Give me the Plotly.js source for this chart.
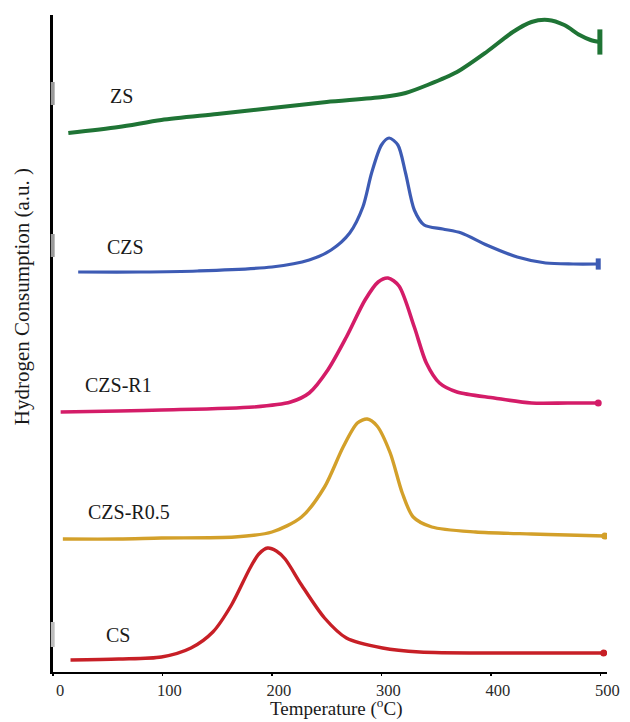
<!DOCTYPE html>
<html>
<head>
<meta charset="utf-8">
<script src="https://cdn.plot.ly/plotly-3.0.1.min.js"></script>
<style>html,body{margin:0;padding:0;background:#fff;}#chart{width:630px;height:722px;}</style>
</head>
<body>
<div id="chart"></div>
<script>
// Temperature (°C) and hydrogen consumption (a.u., stacked offsets as drawn)
const zsT   = [14, 60, 99, 150, 200, 250, 301, 322, 342, 369, 396, 420, 437, 452, 467, 481, 491, 499.5];
const zsH   = [539, 545, 552, 558, 564, 570, 575, 579, 587, 600, 620, 640, 650, 652, 647, 637, 632, 630];

const czsT  = [23, 80, 132, 200, 234, 254, 271, 283, 291, 300, 307, 315, 322, 330, 339, 356, 373, 396, 424, 450, 475, 498];
const czsH  = [400, 400, 401, 405, 412, 422, 439, 465, 499, 527, 534, 527, 499, 462, 447, 443, 439, 427, 415, 409, 408, 408];

const r1T   = [7, 60, 99, 183, 217, 234, 251, 268, 285, 297, 306, 316, 330, 341, 353, 369, 403, 437, 470, 498];
const r1H   = [260, 261, 262, 265, 270, 279, 302, 335, 372, 390, 394, 386, 345, 309, 289, 280, 274, 269, 269, 269];

const r05T  = [9, 60, 99, 166, 200, 227, 248, 265, 278, 287, 296, 308, 319, 329, 346, 386, 437, 470, 504];
const r05H  = [133, 133, 134, 135, 140, 155, 185, 225, 249, 253, 246, 219, 179, 155, 145, 140, 138, 137, 136];

const csT   = [16, 60, 99, 126, 146, 163, 180, 188, 196, 204, 212, 227, 248, 268, 301, 335, 403, 450, 503];
const csH   = [12, 13, 15, 24, 40, 67, 104, 118, 124, 121, 113, 87, 54, 34, 24, 20, 19, 19, 19];

const seriesNames  = ['ZS', 'CZS', 'CZS-R1', 'CZS-R0.5', 'CS'];
const seriesColors = ['#1f7435', '#3d5bb4', '#d41c68', '#d3a02a', '#c71f26'];
const labelT = [63, 66, 60, 69, 59];
const labelH = [576, 425, 287, 160, 37];

const xTicks = [0, 100, 200, 300, 400, 500];
const xTickText = ['0', '100', '200', '300', '400', '500'];

const SERIF = 'Liberation Serif';

const allT = [zsT, czsT, r1T, r05T, csT];
const allH = [zsH, czsH, r1H, r05H, csH];
const widths = [4, 3.2, 3.6, 3.4, 3.4];

const traces = [];
for (let i = 0; i < allT.length; i++) {
  traces.push({
    x: allT[i], y: allH[i], type: 'scatter', mode: 'lines', name: seriesNames[i],
    line: {color: seriesColors[i], width: widths[i], shape: 'spline', smoothing: 0.8},
    showlegend: false, hoverinfo: 'skip'
  });
}
// end markers
const endSymbols = ['line-ns', 'line-ns', 'circle', 'circle', 'circle'];
const endSizes = [18, 8, 7, 7, 7];
for (let i = 0; i < allT.length; i++) {
  const n = allT[i].length - 1;
  traces.push({
    x: [allT[i][n]], y: [allH[i][n]], type: 'scatter', mode: 'markers',
    marker: {symbol: endSymbols[i], size: endSizes[i], color: seriesColors[i],
             line: {color: seriesColors[i], width: endSymbols[i] === 'line-ns' ? 5 : 0}},
    showlegend: false, hoverinfo: 'skip'
  });
}

const annotations = seriesNames.map((s, i) => ({
  x: labelT[i], y: labelH[i], xref: 'x', yref: 'y', text: s, showarrow: false,
  font: {family: SERIF, size: 20, color: '#1a1a1a'},
  xanchor: 'center', yanchor: 'middle'
}));
annotations.push({
  x: -0.056, y: 0.572, xref: 'paper', yref: 'paper', text: 'Hydrogen Consumption (a.u. )',
  textangle: -90, showarrow: false, xanchor: 'center', yanchor: 'middle',
  font: {family: SERIF, size: 21, color: '#1a1a1a'}
});
annotations.push({
  x: 0.51, y: 0, xref: 'paper', yref: 'paper', yshift: -50, text: 'Temperature (<sup>o</sup>C)',
  showarrow: false, xanchor: 'center', yanchor: 'bottom',
  font: {family: SERIF, size: 19, color: '#1a1a1a'}
});

const shapes = [
  {type: 'rect', xref: 'paper', yref: 'y', x0: -0.004, x1: 0.003, y0: 567, y1: 590, fillcolor: '#9a9a9a', line: {width: 0}},
  {type: 'rect', xref: 'paper', yref: 'y', x0: -0.004, x1: 0.003, y0: 415, y1: 438, fillcolor: '#9a9a9a', line: {width: 0}},
  {type: 'rect', xref: 'paper', yref: 'y', x0: -0.004, x1: 0.003, y0: 25, y1: 50, fillcolor: '#bdbdbd', line: {width: 0}}
];

const layout = {
  width: 630, height: 722,
  margin: {l: 53, r: 23, t: 15, b: 50},
  paper_bgcolor: '#ffffff', plot_bgcolor: '#ffffff',
  showlegend: false,
  font: {family: SERIF},
  xaxis: {
    range: [0, 506], tickvals: xTicks, ticktext: xTickText,
    ticks: 'outside', ticklen: 2, tickwidth: 1.5, tickcolor: '#000',
    showline: true, linecolor: '#000', linewidth: 2,
    showgrid: false, zeroline: false, ticklabelshift: 7,
    tickfont: {family: SERIF, size: 16.5, color: '#2a2a2a'}
  },
  yaxis: {
    range: [0, 657], showline: true, linecolor: '#000', linewidth: 3,
    showticklabels: false, ticks: '', showgrid: false, zeroline: false
  },
  annotations: annotations,
  shapes: shapes
};

Plotly.newPlot('chart', traces, layout, {displayModeBar: false, staticPlot: true});
</script>
</body>
</html>
